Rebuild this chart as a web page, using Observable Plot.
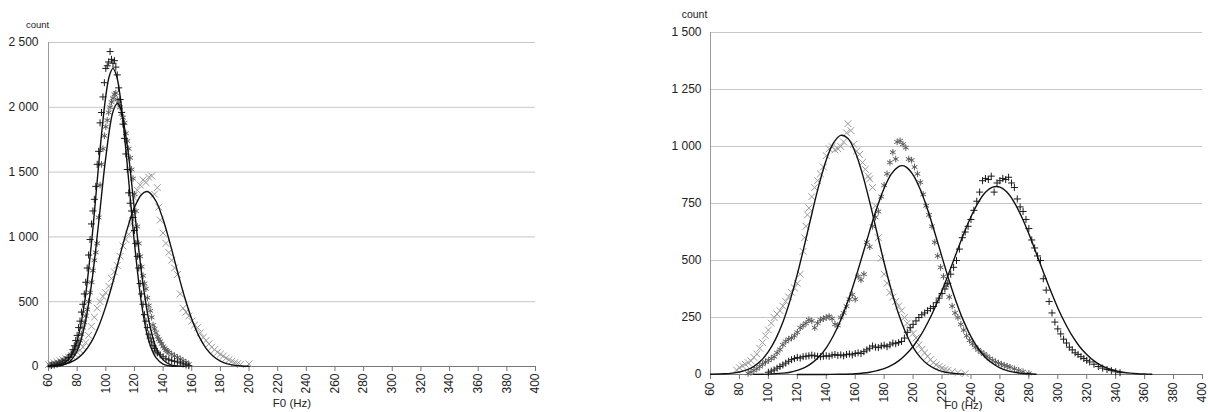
<!DOCTYPE html>
<html>
<head>
<meta charset="utf-8">
<script src="https://cdn.jsdelivr.net/npm/d3@7"></script>
<script src="https://cdn.jsdelivr.net/npm/@observablehq/plot@0.6"></script>
<style>
  html, body { margin: 0; padding: 0; background: #fff; }
  #wrap { position: relative; width: 1208px; height: 412px; overflow: hidden; }
  #left { position: absolute; left: 0; top: 0; }
  #right { position: absolute; left: 620px; top: 0; }
</style>
</head>
<body>
<div id="wrap"><div id="left"></div><div id="right"></div></div>
<script>
// ---------- tick labels ----------
const xTicks = [60, 80, 100, 120, 140, 160, 180, 200, 220, 240, 260, 280, 300, 320, 340, 360, 380, 400];
const leftYTicks = [0, 500, 1000, 1500, 2000, 2500];
const rightYTicks = [0, 250, 500, 750, 1000, 1250, 1500];
const xLabel = "F0 (Hz)";
const yLabel = "count";

// ---------- left panel: observed counts [F0, count] ----------
const leftPlus = [[62,8],[64,12],[66,18],[68,25],[70,35],[72,48],[74,70],[76,95],[77,130],[78,160],[79,200],[80,240],[81,300],[82,350],[83,420],[84,480],[85,560],[86,650],[87,760],[88,860],[89,980],[90,1100],[91,1200],[92,1290],[93,1390],[94,1560],[95,1660],[96,1880],[97,1960],[98,2080],[99,2190],[100,2300],[101,2320],[102,2350],[103,2430],[104,2370],[105,2340],[106,2360],[107,2310],[108,2250],[109,2150],[110,2060],[111,1960],[112,1870],[113,1760],[114,1640],[115,1520],[116,1340],[117,1260],[118,1200],[119,1150],[120,1050],[121,950],[122,850],[123,760],[124,640],[125,560],[126,480],[127,400],[128,350],[129,300],[130,250],[131,220],[132,190],[133,160],[134,140],[135,120],[136,105],[138,90],[140,75],[142,60],[144,52],[146,45],[148,40],[150,35],[152,28],[154,20],[156,12],[158,6]];
const leftStar = [[61,10],[63,15],[65,22],[67,30],[69,40],[71,52],[73,65],[75,80],[77,100],[78,120],[79,140],[80,160],[81,180],[82,200],[83,250],[84,300],[85,340],[86,390],[87,440],[88,500],[89,570],[90,650],[91,740],[92,820],[93,880],[94,950],[95,1150],[96,1400],[97,1560],[98,1680],[99,1780],[100,1850],[101,1900],[102,1960],[103,2000],[104,2040],[105,2070],[106,2100],[107,2110],[108,2060],[109,2030],[110,2000],[111,1950],[112,1920],[113,1880],[114,1800],[115,1740],[116,1680],[117,1610],[118,1520],[119,1450],[120,1330],[121,1200],[122,1080],[123,950],[124,850],[125,770],[126,700],[127,640],[128,600],[129,530],[130,470],[131,430],[132,380],[133,320],[134,290],[135,260],[136,230],[137,210],[138,195],[139,175],[140,155],[141,140],[142,128],[143,118],[144,108],[146,95],[148,82],[150,70],[152,58],[154,45],[156,32],[158,18]];
const leftCross = [[60,15],[62,20],[64,28],[66,35],[68,45],[70,52],[72,62],[74,72],[76,85],[78,98],[80,110],[82,125],[84,150],[86,185],[88,240],[90,310],[92,380],[94,450],[96,500],[98,540],[100,570],[102,620],[104,680],[106,730],[108,780],[110,850],[112,930],[114,980],[116,1020],[118,1100],[120,1300],[122,1360],[124,1400],[126,1440],[128,1420],[130,1460],[132,1470],[134,1330],[136,1380],[137,1230],[138,1130],[140,1030],[142,950],[144,880],[146,820],[148,760],[150,710],[152,560],[154,450],[156,420],[158,390],[160,350],[162,320],[164,300],[166,260],[168,225],[170,200],[172,175],[174,150],[176,130],[178,110],[180,95],[182,80],[184,65],[186,52],[188,40],[190,30],[192,22],[194,15],[200,20]];

// ---------- left panel: fitted curves [F0, count] ----------
const leftFitPlus = [[60,1],[65,4],[70,19],[75,68],[80,199],[85,481],[90,953],[92.5,1247],[95,1555],[97.5,1845],[100,2086],[102.5,2244],[105,2300],[107.5,2244],[110,2086],[112.5,1845],[115,1555],[117.5,1247],[120,953],[125,481],[130,199],[135,68],[140,19],[145,4],[150,1]];
const leftFitStar = [[60,0.5],[65,3],[70,11],[75,41],[80,122],[85,304],[90,634],[95,1107],[100,1613],[105,1965],[108,2030],[110,2001],[115,1702],[120,1210],[125,719],[130,357],[135,148],[140,51],[145,15],[150,4],[155,1]];
const leftFitCross = [[60,3],[65,7],[70,15],[75,31],[80,61],[85,112],[90,192],[95,309],[100,464],[105,653],[110,861],[115,1062],[120,1228],[125,1328],[128.5,1350],[130,1346],[135,1277],[140,1134],[145,944],[150,735],[155,536],[160,366],[165,234],[170,140],[175,79],[180,41],[185,20],[190,9],[195,4],[200,2]];

// ---------- right panel: observed counts [F0, count] ----------
const rightCross = [[78,20],[80,30],[82,38],[84,45],[86,52],[88,60],[90,75],[92,90],[94,115],[96,140],[98,170],[100,195],[102,225],[104,250],[106,265],[108,280],[110,300],[112,320],[114,340],[116,360],[118,380],[120,400],[122,440],[124,540],[125,600],[126,650],[127,700],[128,730],[130,780],[132,820],[134,850],[136,880],[138,910],[140,960],[142,990],[144,1000],[146,985],[148,990],[150,1000],[152,1020],[154,1060],[155,1100],[157,1070],[159,1010],[161,980],[163,965],[165,930],[167,900],[169,870],[170,858],[172,820],[174,740],[176,600],[178,510],[180,440],[182,400],[184,360],[186,340],[188,320],[190,300],[192,280],[194,250],[196,225],[198,200],[200,180],[202,160],[204,130],[206,110],[208,95],[210,80],[212,65],[214,52],[216,42],[218,35],[220,28],[222,22],[224,18],[227,12],[231,8],[236,4]];
const rightStar = [[86,5],[88,10],[90,18],[92,25],[94,35],[96,45],[98,55],[100,62],[102,70],[104,78],[106,95],[108,110],[110,130],[112,145],[114,155],[116,160],[118,170],[120,185],[122,205],[124,215],[126,225],[128,240],[130,235],[132,205],[134,225],[136,240],[138,245],[140,250],[142,255],[144,245],[146,220],[148,215],[150,250],[152,270],[154,300],[156,330],[158,350],[160,330],[162,430],[164,415],[166,440],[168,580],[170,560],[172,650],[174,690],[176,715],[178,780],[180,830],[182,880],[184,930],[186,975],[188,945],[189,1020],[191,1025],[193,1010],[195,995],[197,945],[199,940],[201,910],[203,880],[205,843],[207,790],[209,740],[211,700],[213,650],[215,580],[217,520],[219,470],[221,430],[223,390],[225,340],[227,300],[229,270],[231,250],[233,220],[235,195],[237,170],[239,150],[241,135],[243,120],[245,108],[247,98],[249,90],[251,80],[253,70],[255,62],[257,55],[259,50],[261,45],[263,40],[265,36],[267,32],[270,25],[273,18],[276,12],[280,5]];
const rightPlus = [[100,10],[102,15],[104,20],[106,28],[108,35],[110,42],[112,50],[114,58],[116,65],[118,70],[120,75],[122,72],[124,78],[126,80],[128,82],[130,85],[132,82],[134,80],[136,78],[138,80],[140,82],[142,80],[144,85],[146,88],[148,84],[150,86],[152,82],[154,88],[156,90],[158,86],[160,92],[162,95],[164,92],[166,100],[168,108],[170,115],[172,125],[174,120],[176,118],[178,125],[180,128],[182,122],[184,130],[186,138],[188,135],[190,140],[192,145],[194,160],[196,185],[198,205],[200,220],[202,235],[204,250],[206,262],[208,270],[210,280],[212,290],[214,298],[216,315],[218,335],[220,355],[222,375],[224,400],[226,440],[228,470],[230,500],[232,550],[234,600],[236,625],[238,650],[240,680],[242,720],[244,760],[246,800],[248,850],[250,860],[252,855],[254,870],[256,800],[258,840],[260,850],[262,860],[264,855],[266,865],[268,840],[270,820],[272,770],[274,735],[276,715],[278,680],[280,640],[282,590],[284,555],[286,520],[288,500],[290,420],[292,370],[294,320],[296,270],[298,230],[300,200],[302,178],[304,155],[306,138],[308,120],[310,108],[312,95],[314,88],[316,78],[318,70],[320,62],[322,55],[325,45],[328,35],[331,28],[334,22],[337,17],[340,12],[343,8]];

// ---------- right panel: fitted curves [F0, count] ----------
const rightFitCross = [[60,1],[70,3],[75,6],[80,11],[85,20],[90,36],[95,61],[100,100],[105,155],[110,229],[115,325],[120,440],[125,569],[130,704],[135,833],[140,941],[145,1016],[150,1049],[155,1035],[160,976],[165,879],[170,757],[175,623],[180,490],[185,369],[190,265],[195,182],[200,119],[205,75],[210,45],[215,26],[220,14],[225,7],[230,4],[235,2]];
const rightFitStar = [[90,0.4],[100,1.5],[110,6],[115,10],[120,18],[125,30],[130,50],[135,78],[140,117],[145,171],[150,239],[155,322],[160,418],[165,523],[170,630],[175,731],[180,817],[185,880],[190,912],[192.5,916],[195,911],[200,876],[205,811],[210,724],[215,622],[220,515],[225,410],[230,315],[235,233],[240,166],[245,114],[250,75],[255,48],[260,29],[265,17],[270,10],[275,5],[280,3],[285,1]];
const rightFitPlus = [[120,0],[130,0],[140,0.3],[150,1],[160,3.5],[170,10],[175,17],[180,26],[185,40],[190,60],[195,88],[200,123],[205,169],[210,226],[215,292],[220,368],[225,450],[230,534],[235,617],[240,692],[245,754],[250,799],[255,822],[260,822],[265,799],[270,754],[275,692],[280,617],[285,534],[290,450],[295,368],[300,292],[305,226],[310,169],[315,123],[320,88],[325,60],[330,40],[335,26],[340,17],[345,10],[350,6],[355,3.5],[360,2],[365,1]];

const fmt = d => d3.format(",")(d).replace(/,/g, "\u00a0");
const FONT = "'Liberation Sans', Arial, Helvetica, sans-serif";

function dots(data, symbol, r, stroke) {
  return Plot.dot(data, {x: d => d[0], y: d => d[1], symbol, r, stroke, strokeWidth: 1, fill: "none"});
}
function fit(data) {
  return Plot.line(data, {x: d => d[0], y: d => d[1], curve: "catmull-rom", stroke: "#111", strokeWidth: 1.4});
}

function panel(o) {
  return Plot.plot({
    width: o.width, height: 412,
    marginLeft: o.ml, marginRight: o.mr, marginTop: o.mt, marginBottom: o.mb,
    style: {fontFamily: FONT, fontSize: "11.5px", color: "#222", background: "#fff", overflow: "visible"},
    x: {domain: [60, 400]},
    y: {domain: [0, o.yMax]},
    marks: [
      Plot.gridY(o.yTicks.filter(t => t > 0), {stroke: "#c6c6c6", strokeOpacity: 1, strokeWidth: 1}),
      Plot.axisY(o.yTicks, {tickSize: 0, tickPadding: o.yPad, tickFormat: fmt, label: null, fontSize: 12}),
      Plot.axisX(xTicks, {tickRotate: -90, tickSize: 5, tickPadding: o.xPad, label: null, stroke: "#777", fontSize: 12}),
      Plot.ruleX([60], {stroke: "#9a9a9a"}),
      Plot.ruleY([0], {stroke: "#777"}),
      ...o.marks,
      Plot.text([yLabel], {text: d => d, frameAnchor: "top-left", dx: o.cdx, dy: o.cdy, fontSize: o.cSize, textAnchor: "middle", lineAnchor: "middle", fill: "#222"}),
      Plot.text([xLabel], {text: d => d, frameAnchor: "bottom", dx: o.fdx, dy: o.fdy, fontSize: 11.5, lineAnchor: "middle", fill: "#222"})
    ]
  });
}

document.getElementById("left").appendChild(panel({
  width: 560, ml: 48, mr: 25, mt: 42, mb: 46, yMax: 2500, yTicks: leftYTicks,
  yPad: 10, xPad: 2, cdx: -11, cdy: -18, cSize: 9.5, fdx: 0, fdy: 37,
  marks: [
    dots(leftCross, "times", 3.2, "#9a9a9a"),
    dots(leftStar, "asterisk", 3.1, "#5a5a5a"),
    dots(leftPlus, "plus", 2.4, "#1a1a1a"),
    fit(leftFitCross), fit(leftFitStar), fit(leftFitPlus)
  ]
}));

document.getElementById("right").appendChild(panel({
  width: 588, ml: 90, mr: 6, mt: 32, mb: 38, yMax: 1500, yTicks: rightYTicks,
  yPad: 9, xPad: 3, cdx: -16, cdy: -18, cSize: 10.5, fdx: 7, fdy: 31,
  marks: [
    dots(rightCross, "times", 3.2, "#9a9a9a"),
    dots(rightStar, "asterisk", 3.1, "#5a5a5a"),
    dots(rightPlus, "plus", 2.4, "#1a1a1a"),
    fit(rightFitCross), fit(rightFitStar), fit(rightFitPlus)
  ]
}));
</script>
</body>
</html>
